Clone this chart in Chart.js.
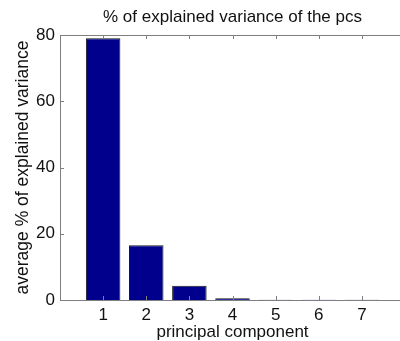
<!DOCTYPE html>
<html lang="en">
<head>
    <meta charset="UTF-8">
    <title>% of explained variance of the pcs</title>
    <script src="https://cdn.jsdelivr.net/npm/chart.js"></script>
    <style>
        html, body { margin: 0; padding: 0; background: #fff; overflow: hidden; }
        #wrap { position: relative; width: 410px; height: 341px; }
    </style>
</head>
<body>
    <div id="wrap"><canvas id="pcChart"></canvas></div>
    <script>
        // values
        const components = [1, 2, 3, 4, 5, 6, 7];
        const explainedVariance = [79.0, 16.5, 4.3, 0.5, 0.1, 0.1, 0.1];
        const yTicks = [0, 20, 40, 60, 80];

        const FONT = '"Liberation Sans", Arial, sans-serif';
        const AXIS_GRAY = '#7f7f7f';

        // MATLAB-like box with inward tick marks
        const boxPlugin = {
            id: 'matlabBox',
            afterDatasetsDraw(chart) {
                const { ctx, chartArea: a, scales: { x, y } } = chart;
                const len = 4;
                ctx.save();
                ctx.strokeStyle = AXIS_GRAY;
                ctx.lineWidth = 1;
                ctx.strokeRect(a.left + 0.5, a.top + 0.5, a.right - a.left, a.bottom - a.top);
                ctx.beginPath();
                components.forEach(c => {
                    const px = Math.round(x.getPixelForValue(c)) + 0.5;
                    ctx.moveTo(px, a.bottom); ctx.lineTo(px, a.bottom - len);
                    ctx.moveTo(px, a.top); ctx.lineTo(px, a.top + len);
                });
                yTicks.forEach(v => {
                    const py = Math.round(y.getPixelForValue(v)) + 0.5;
                    ctx.moveTo(a.left, py); ctx.lineTo(a.left + len, py);
                    ctx.moveTo(a.right, py); ctx.lineTo(a.right - len, py);
                });
                ctx.stroke();
                ctx.restore();
            }
        };

        new Chart(document.getElementById('pcChart'), {
            type: 'bar',
            data: {
                datasets: [{
                    data: components.map((c, i) => ({ x: c, y: explainedVariance[i] })),
                    backgroundColor: '#00008c',
                    borderColor: '#1a1a1a',
                    borderWidth: 1,
                    barPercentage: 1,
                    categoryPercentage: 0.8
                }]
            },
            options: {
                responsive: true,
                maintainAspectRatio: false,
                animation: false,
                layout: { padding: { left: 0, right: 1.5, top: 0, bottom: 0 } },
                plugins: {
                    legend: { display: false },
                    tooltip: { enabled: false },
                    title: {
                        display: true,
                        fullSize: false,
                        text: '% of explained variance of the pcs',
                        color: '#111',
                        font: { family: FONT, size: 17, weight: 'normal', lineHeight: 1 },
                        padding: { top: 9, bottom: 9 }
                    }
                },
                scales: {
                    x: {
                        type: 'linear',
                        offset: false,
                        min: 0,
                        max: 8,
                        grid: { display: false, drawTicks: false },
                        border: { display: false },
                        ticks: {
                            stepSize: 1,
                            padding: 5,
                            color: '#111',
                            font: { family: FONT, size: 17 },
                            callback: v => components.includes(v) ? String(v) : ''
                        },
                        title: {
                            display: true,
                            text: 'principal component',
                            color: '#111',
                            font: { family: FONT, size: 17, lineHeight: 1 },
                            padding: { top: 0, bottom: 0 }
                        },
                        afterFit(scale) { scale.height = 41; }
                    },
                    y: {
                        min: 0,
                        max: 80,
                        grid: { display: false, drawTicks: false },
                        border: { display: false },
                        ticks: {
                            stepSize: 20,
                            padding: 5,
                            color: '#111',
                            font: { family: FONT, size: 17 }
                        },
                        title: {
                            display: true,
                            text: 'average % of explained variance',
                            color: '#111',
                            font: { family: FONT, size: 17.5, lineHeight: 1 },
                            padding: { top: 14, bottom: 0 }
                        },
                        afterFit(scale) { scale.width = 60; }
                    }
                }
            },
            plugins: [boxPlugin]
        });
    </script>
</body>
</html>
